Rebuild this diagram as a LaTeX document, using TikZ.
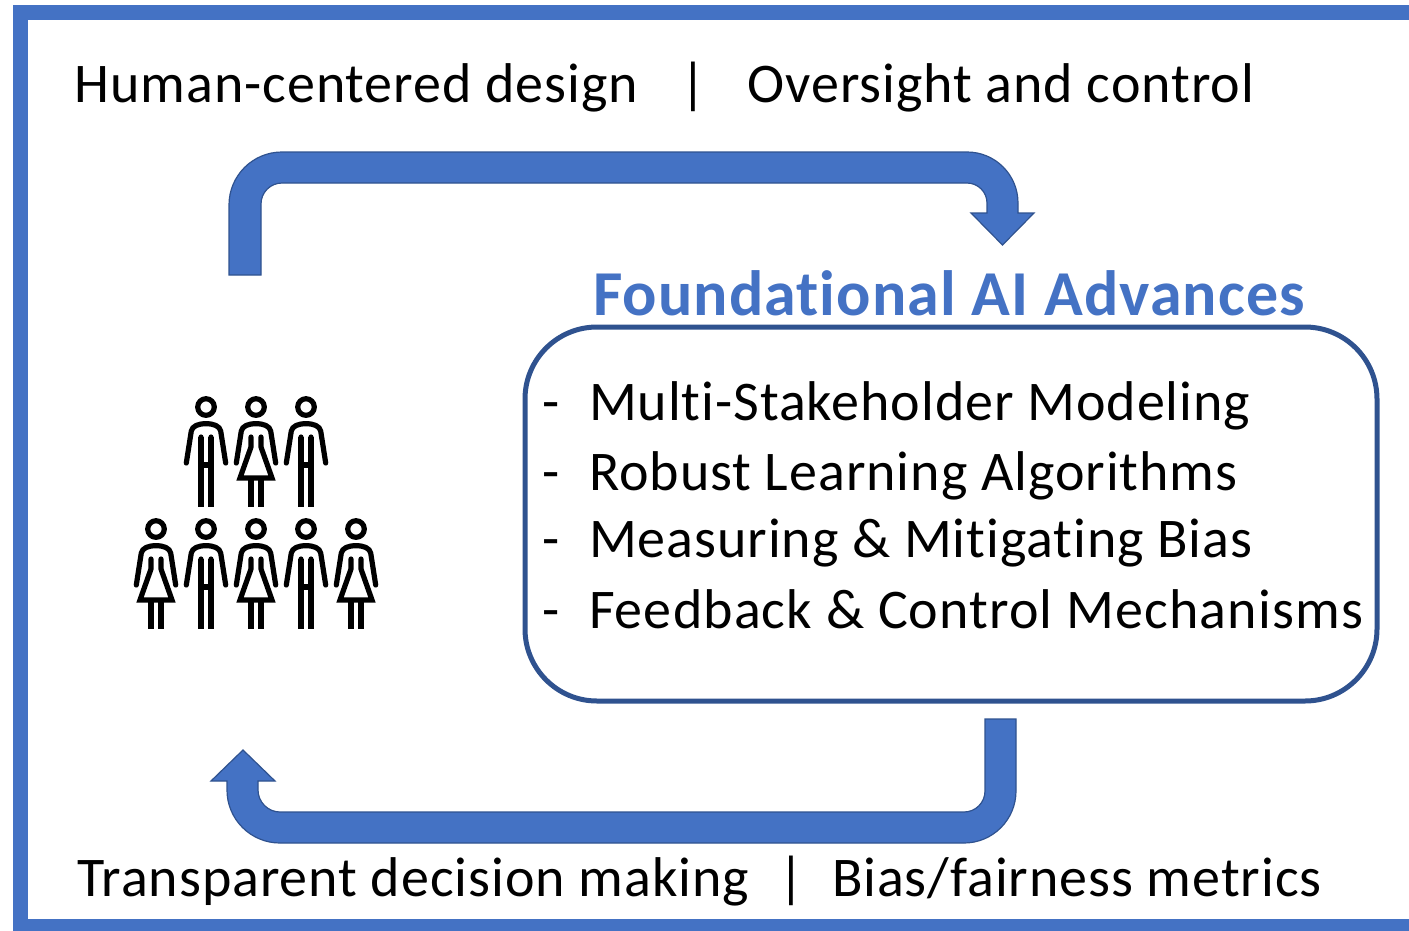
\documentclass[tikz,border=0pt]{standalone}
\usepackage{fontspec}
\setmainfont[LetterSpace=1.7,Ligatures=NoCommon]{Carlito}
\newfontfamily\wideface[LetterSpace=2.0,Ligatures=NoCommon]{Carlito}
\definecolor{blu}{HTML}{4472C4}
\definecolor{edg}{HTML}{2F528F}
\tikzset{
 x=1pt,y=-1pt,
 lbl/.style={anchor=base west,inner sep=0pt,outer sep=0pt,font=\fontsize{56}{60}\selectfont,text=black},
 ttl/.style={anchor=base west,inner sep=0pt,outer sep=0pt,font=\fontsize{64}{70}\selectfont\bfseries,text=blu},
 bar/.style={fill=blu,draw=edg,line width=1.2pt,line join=miter},
 fig/.style={draw=black,line width=5.2pt,line cap=round,line join=round},
 man/.pic={
  \draw[fig] (0,0) circle (8.3);
  \draw[fig] (-19.7,56) -- (-14.7,24) .. controls (-13.5,19) and (-8,16.7) .. (0,16.7) .. controls (8,16.7) and (13.5,19) .. (14.7,24) -- (19.7,56);
  \draw[fig,line cap=butt] (-5,30) -- (-5,100) (5,30) -- (5,100) (-5,58) -- (5,58);
  \fill (-5,30) circle (2.6) (5,30) circle (2.6);
 },
 woman/.pic={
  \draw[fig] (0,0) circle (8.3);
  \draw[fig] (-19.7,56) -- (-14.7,24) .. controls (-13.5,19) and (-8,16.7) .. (0,16.7) .. controls (8,16.7) and (13.5,19) .. (14.7,24) -- (19.7,56);
  \draw[fig,line join=miter] (-5,30) -- (-5,40) -- (-16,71) -- (16,71) -- (5,40) -- (5,30);
  \draw[fig,line cap=butt] (-5,71) -- (-5,100) (5,71) -- (5,100);
 }
}
\begin{document}
\begin{tikzpicture}
\useasboundingbox (0,0) rectangle (1409,930);
\fill[white] (0,0) rectangle (1409,930);
% frame
\draw[blu,line width=15.5pt,line join=miter] (1420,12.7) -- (20.7,12.7) -- (20.7,926.7) -- (1420,926.7);
% top arrow
\path[bar] (229,275) -- (229,205) .. controls (229,175.7) and (252.7,152) .. (282,152) -- (967,152) .. controls (995.2,152) and (1018,174.8) .. (1018,203) -- (1018,213) -- (1034,213) -- (1002.5,245) -- (971,213) -- (987,213) -- (987,203) .. controls (987,192) and (978,183) .. (967,183) -- (282,183) .. controls (270.4,183) and (261,192.4) .. (261,204) -- (261,275) -- cycle;
% bottom arrow
\path[bar] (1016,719) -- (1016,791) .. controls (1016,819.7) and (992.7,843) .. (964,843) -- (280,843) .. controls (250.7,843) and (227,819.3) .. (227,790) -- (227,781) -- (211,781) -- (243,750) -- (275,781) -- (258,781) -- (258,790) .. controls (258,802) and (268,812) .. (280,812) -- (964,812) .. controls (975.6,812) and (985,802.6) .. (985,791) -- (985,719) -- cycle;
% box
\draw[edg,line width=5pt,rounded corners=72pt] (525,327) rectangle (1377,701);
% texts
\node[lbl] (hcd) at (74.5,102) {Human-centered design};
\node[lbl] (sep1) at (680,102) {|};
\node[lbl] (ovs) at (747.5,102) {Oversight and control};
\node[ttl] (fnd) at (593,315) {Foundational AI Advances};
\node[lbl] (d1) at (542,420) {-};
\node[lbl] (t1) at (589,420) {Multi-Stakeholder Modeling};
\node[lbl] (d2) at (542,490) {-};
\node[lbl] (t2) at (589,490) {Robust Learning Algorithms};
\node[lbl] (d3) at (542,557) {-};
\node[lbl] (t3) at (589,557) {Measuring \& Mitigating Bias};
\node[lbl] (d4) at (542,628) {-};
\node[lbl] (t4) at (589,628) {\wideface Feedback \& Control Mechanisms};
\node[lbl] (tdm) at (77,896) {Transparent decision making};
\node[lbl] (sep2) at (778,896) {|};
\node[lbl] (bfm) at (832,896) {Bias/fairness metrics};
% people
\pic at (206,407) {man};
\pic at (256,407) {woman};
\pic at (306,407) {man};
\pic at (156,529) {woman};
\pic at (206,529) {man};
\pic at (256,529) {woman};
\pic at (306,529) {man};
\pic at (356,529) {woman};
\end{tikzpicture}
\end{document}
